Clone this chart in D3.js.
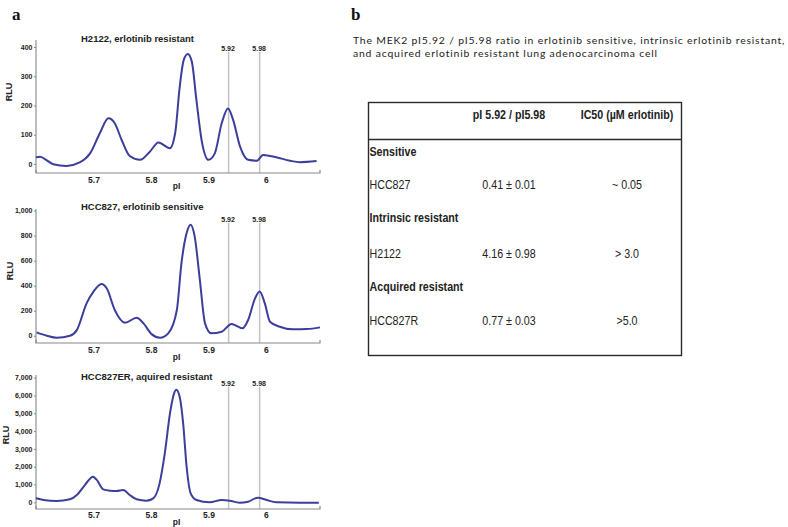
<!DOCTYPE html>
<html>
<head>
<meta charset="utf-8">
<script src="https://cdn.jsdelivr.net/npm/d3@7/dist/d3.min.js"></script>
<style>
  html, body { margin: 0; padding: 0; background: #fff; }
  svg { display: block; }
</style>
</head>
<body>
<svg id="chart" width="788" height="527"></svg>
<script>
// ---------------- DATA ----------------
const panelTitles = ["H2122, erlotinib resistant", "HCC827, erlotinib sensitive", "HCC827ER, aquired resistant"];
const xTicks = [5.7, 5.8, 5.9, 6];
const markerLabels = ["5.92", "5.98"];
const markerPositions = [5.935, 5.989];

const yTicksH2122 = [0, 100, 200, 300, 400];
const yTicksHCC827 = [0, 200, 400, 600, 800, 1000];
const yTicksHCC827ER = [0, 1000, 2000, 3000, 4000, 5000, 6000, 7000];

// [pI, RLU]
const curveH2122 = [
  [5.600,23],[5.607,25],[5.616,16],[5.630,-1],[5.653,-7],[5.676,5],[5.694,36],[5.711,105],
  [5.726,156],[5.737,139],[5.749,82],[5.763,27],[5.781,14],[5.798,42],[5.813,73],[5.833,54],
  [5.842,105],[5.850,264],[5.857,356],[5.864,376],[5.871,350],[5.879,219],[5.888,82],[5.900,14],
  [5.911,36],[5.923,139],[5.934,190],[5.943,150],[5.955,59],[5.969,14],[5.984,11],[5.995,31],
  [6.018,23],[6.042,11],[6.059,6],[6.088,10]
];
const curveHCC827 = [
  [5.601,27],[5.619,0],[5.636,-16],[5.659,0],[5.671,45],[5.688,259],[5.700,353],[5.714,414],
  [5.723,380],[5.737,206],[5.755,104],[5.775,144],[5.787,99],[5.801,13],[5.816,-16],[5.830,19],
  [5.845,206],[5.853,580],[5.862,821],[5.869,888],[5.876,794],[5.885,447],[5.894,99],[5.905,19],
  [5.923,32],[5.940,94],[5.949,78],[5.959,59],[5.969,126],[5.981,299],[5.989,353],[5.998,259],
  [6.007,112],[6.024,72],[6.047,51],[6.071,53],[6.094,67]
];
const curveHCC827ER = [
  [5.600,224],[5.613,131],[5.636,75],[5.659,168],[5.671,410],[5.685,970],[5.699,1437],[5.705,1288],
  [5.717,728],[5.729,653],[5.740,635],[5.752,690],[5.763,410],[5.775,168],[5.792,93],[5.804,224],
  [5.815,1064],[5.824,2744],[5.833,4984],[5.840,6104],[5.844,6328],[5.850,5918],[5.856,4424],
  [5.862,1997],[5.869,504],[5.879,131],[5.902,0],[5.923,131],[5.937,93],[5.954,-19],[5.969,37],
  [5.986,261],[6.001,131],[6.018,0],[6.059,-19],[6.092,-19]
];

const tableCaption = [
  "The MEK2 pI5.92 / pI5.98 ratio in erlotinib sensitive, intrinsic erlotinib resistant,",
  "and acquired erlotinib resistant lung adenocarcinoma cell"
];
const tableHeaders = ["pI 5.92 / pI5.98", "IC50 (\u00b5M erlotinib)"];
const tableGroups = ["Sensitive", "Intrinsic resistant", "Acquired resistant"];
const tableCells = ["HCC827", "H2122", "HCC827R"];
const tableRatios = ["0.41 \u00b1 0.01", "4.16 \u00b1 0.98", "0.77 \u00b1 0.03"];
const tableIC50 = ["~ 0.05", "> 3.0", ">5.0"];

// ---------------- LAYOUT ----------------
const svg = d3.select("#chart");
const lineColor = "#3b3e9a";
const boldFont = "'Liberation Sans', Arial, sans-serif";
const textColor = "#222";

const panels = [
  { title: panelTitles[0], data: curveH2122, ticks: yTicksH2122, yDomain: [-31, 424], yRange: [173, 40],
    titleY: 41.5, labelY: 50.8, lineTop: 52, tickY: 182.7, pIY: 189, rluX: 11.7, rluY: 92 },
  { title: panelTitles[1], data: curveHCC827, ticks: yTicksHCC827, yDomain: [-58, 1013], yRange: [343, 209],
    titleY: 209.5, labelY: 221.8, lineTop: 223, tickY: 353, pIY: 359.5, rluX: 12.5, rluY: 271 },
  { title: panelTitles[2], data: curveHCC827ER, ticks: yTicksHCC827ER, yDomain: [-375, 7150], yRange: [509, 375],
    titleY: 379.5, labelY: 385.8, lineTop: 387, tickY: 518, pIY: 524.5, rluX: 8.5, rluY: 435 }
];

const x = d3.scaleLinear().domain([5.6, 6.094]).range([36, 320]);

// panel label a
svg.append("text").attr("x", 12).attr("y", 20)
  .attr("font-family", "'Liberation Serif', 'DejaVu Serif', serif")
  .attr("font-weight", "bold").attr("font-size", 17).attr("fill", "#111").text("a");

panels.forEach(p => {
  const y = d3.scaleLinear().domain(p.yDomain).range(p.yRange);
  const g = svg.append("g");
  const yBottom = p.yRange[0], yTop = p.yRange[1];

  // marker lines
  markerPositions.forEach((m, i) => {
    g.append("line").attr("x1", x(m)).attr("x2", x(m)).attr("y1", p.lineTop).attr("y2", yBottom)
      .attr("stroke", "#c2c2c2").attr("stroke-width", 1.5);
    g.append("text").attr("x", x(m) - 0.5).attr("y", p.labelY).attr("text-anchor", "middle")
      .attr("font-family", boldFont).attr("font-size", 7).attr("font-weight", "bold").attr("fill", textColor)
      .text(markerLabels[i]);
  });

  // axes
  const yAxis = d3.axisLeft(y).tickValues(p.ticks).tickSize(2).tickSizeOuter(0).tickFormat(d3.format(","));
  const ya = g.append("g").attr("transform", "translate(36,0)").call(yAxis);
  ya.select(".domain").attr("d", `M0,${yTop}V${yBottom}`).attr("stroke", "#9a9a9a").attr("stroke-width", 1.3);
  ya.selectAll(".tick line").attr("stroke", "#888");
  ya.selectAll(".tick text").attr("font-family", boldFont).attr("font-weight", "bold")
    .attr("font-size", 7).attr("fill", textColor).attr("x", -3.5);

  const xAxis = d3.axisBottom(x).tickValues(xTicks).tickSize(0).tickSizeOuter(0)
    .tickFormat(d => d === 6 ? "6" : d3.format(".1f")(d));
  const xa = g.append("g").attr("transform", `translate(0,${yBottom})`).call(xAxis);
  xa.select(".domain").attr("d", `M${x.range()[0]},-3V0H${x.range()[1]}V-3`).attr("stroke", "#8a8a8a").attr("stroke-width", 1.2);
  xa.selectAll(".tick text").attr("font-family", boldFont).attr("font-weight", "bold")
    .attr("font-size", 8.5).attr("fill", textColor).attr("dy", 0).attr("y", p.tickY - yBottom);

  g.append("text").attr("x", 176.5).attr("y", p.pIY).attr("text-anchor", "middle")
    .attr("font-family", boldFont).attr("font-weight", "bold").attr("font-size", 8.5).attr("fill", textColor).text("pI");

  g.append("text").attr("transform", `translate(${p.rluX},${p.rluY}) rotate(-90)`).attr("text-anchor", "middle")
    .attr("font-family", boldFont).attr("font-weight", "bold").attr("font-size", 9).attr("fill", textColor).text("RLU");

  g.append("text").attr("x", 81).attr("y", p.titleY).attr("text-anchor", "start")
    .attr("font-family", boldFont).attr("font-weight", "bold").attr("font-size", 9.5).attr("fill", textColor).text(p.title);

  // curve
  const line = d3.line().x(d => x(d[0])).y(d => y(d[1])).curve(d3.curveMonotoneX);
  g.append("path").datum(p.data).attr("d", line).attr("fill", "none")
    .attr("stroke", lineColor).attr("stroke-width", 2).attr("stroke-linejoin", "round");
});

// ---------------- PANEL b ----------------
svg.append("text").attr("x", 351).attr("y", 20)
  .attr("font-family", "'Liberation Serif', 'DejaVu Serif', serif")
  .attr("font-weight", "bold").attr("font-size", 17).attr("fill", "#111").text("b");

// caption: keep the reference's width, spread with letter spacing
const capFont = "Lato, 'Open Sans', sans-serif";
const capSize = 10.4;
const capTargetWidth = 433;
const probe = svg.append("text").attr("font-family", capFont).attr("font-size", capSize).text(tableCaption[0]);
const natural = probe.node().getComputedTextLength();
probe.remove();
const capSpacing = Math.max(0, (capTargetWidth - natural) / tableCaption[0].length);
tableCaption.forEach((t, i) => {
  svg.append("text").attr("x", 353).attr("y", 44 + i * 12.6)
    .attr("font-family", capFont).attr("font-size", capSize).attr("letter-spacing", capSpacing)
    .attr("fill", textColor).text(t);
});

const narrowScale = 0.89;
const tblFont = "'Liberation Sans', Arial, sans-serif";
const tbl = svg.append("g");
tbl.append("rect").attr("x", 368.5).attr("y", 102.5).attr("width", 313).attr("height", 253)
  .attr("fill", "none").attr("stroke", "#2a2a2a").attr("stroke-width", 1.4);
tbl.append("line").attr("x1", 368.5).attr("x2", 681.5).attr("y1", 139.5).attr("y2", 139.5)
  .attr("stroke", "#2a2a2a").attr("stroke-width", 1.4);

function cellText(xPos, yPos, txt, bold, anchor) {
  tbl.append("text").attr("transform", `translate(${xPos},${yPos}) scale(${narrowScale},1)`)
    .attr("text-anchor", anchor).attr("font-family", tblFont)
    .attr("font-weight", bold ? "bold" : "normal").attr("font-size", 12).attr("fill", textColor).text(txt);
}

const colX = [509, 627];
tableHeaders.forEach((h, i) => cellText(colX[i], 119, h, true, "middle"));

const groupY = [155.5, 222, 291];
const rowY = [188.5, 257.5, 325];
tableGroups.forEach((gname, i) => {
  cellText(369.5, groupY[i], gname, true, "start");
  cellText(369.5, rowY[i], tableCells[i], false, "start");
  cellText(colX[0], rowY[i], tableRatios[i], false, "middle");
  cellText(colX[1], rowY[i], tableIC50[i], false, "middle");
});
</script>
</body>
</html>
